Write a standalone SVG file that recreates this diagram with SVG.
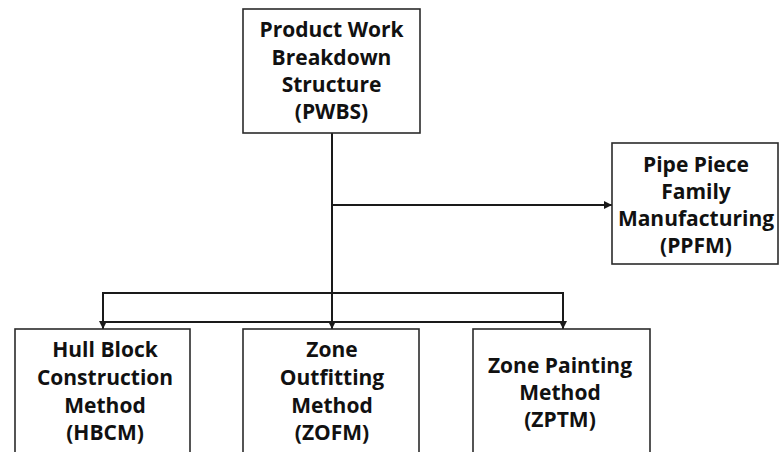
<svg xmlns="http://www.w3.org/2000/svg" width="779" height="452" viewBox="0 0 779 452">
  <style>
    .box { fill: #ffffff; stroke: #2b2b2b; stroke-width: 1.6; }
    .lbl { font-family: "Open Sans", "Liberation Sans", sans-serif; font-weight: bold; font-size: 21px; fill: #111111; text-anchor: middle; }
    .wire { fill: none; stroke: #1a1a1a; stroke-width: 2; }
  </style>
  <defs>
    <marker id="tip" viewBox="0 0 10 10" refX="10" refY="5" markerWidth="8" markerHeight="8" markerUnits="userSpaceOnUse" orient="auto">
      <path d="M0,0 L10,5 L0,10 z" fill="#1a1a1a"/>
    </marker>
  </defs>

  <rect width="779" height="452" fill="#ffffff"/>

  <g id="connectors">
    <!-- trunk from PWBS down to ZOFM -->
    <line class="wire" x1="332" y1="133" x2="332" y2="329" marker-end="url(#tip)"/>
    <!-- branch to PPFM -->
    <line class="wire" x1="332" y1="205" x2="612" y2="205" marker-end="url(#tip)"/>
    <!-- distribution bars -->
    <path class="wire" d="M103,329 V293 H563 V329" />
    <line class="wire" x1="103" y1="322" x2="563" y2="322"/>
    <line class="wire" x1="103" y1="318" x2="103" y2="329" marker-end="url(#tip)"/>
    <line class="wire" x1="563" y1="318" x2="563" y2="329" marker-end="url(#tip)"/>
  </g>

  <g id="pwbs">
    <rect class="box" x="243" y="9" width="177" height="124"/>
    <text class="lbl" x="331.5" y="37">Product Work</text>
    <text class="lbl" x="331.5" y="64.5">Breakdown</text>
    <text class="lbl" x="331.5" y="92">Structure</text>
    <text class="lbl" x="331.5" y="119">(PWBS)</text>
  </g>

  <g id="ppfm">
    <rect class="box" x="612" y="143" width="166" height="121"/>
    <text class="lbl" x="696" y="172">Pipe Piece</text>
    <text class="lbl" x="696" y="199">Family</text>
    <text class="lbl" x="696" y="226">Manufacturing</text>
    <text class="lbl" x="696" y="253">(PPFM)</text>
  </g>

  <g id="hbcm">
    <rect class="box" x="15" y="329" width="175" height="140"/>
    <text class="lbl" x="105" y="357">Hull Block</text>
    <text class="lbl" x="105" y="385">Construction</text>
    <text class="lbl" x="105" y="413">Method</text>
    <text class="lbl" x="105" y="440">(HBCM)</text>
  </g>

  <g id="zofm">
    <rect class="box" x="243" y="329" width="176" height="140"/>
    <text class="lbl" x="332" y="357">Zone</text>
    <text class="lbl" x="332" y="385">Outfitting</text>
    <text class="lbl" x="332" y="413">Method</text>
    <text class="lbl" x="332" y="440">(ZOFM)</text>
  </g>

  <g id="zptm">
    <rect class="box" x="473" y="329" width="177" height="140"/>
    <text class="lbl" x="560" y="373">Zone Painting</text>
    <text class="lbl" x="560" y="400">Method</text>
    <text class="lbl" x="560" y="427">(ZPTM)</text>
  </g>
</svg>
